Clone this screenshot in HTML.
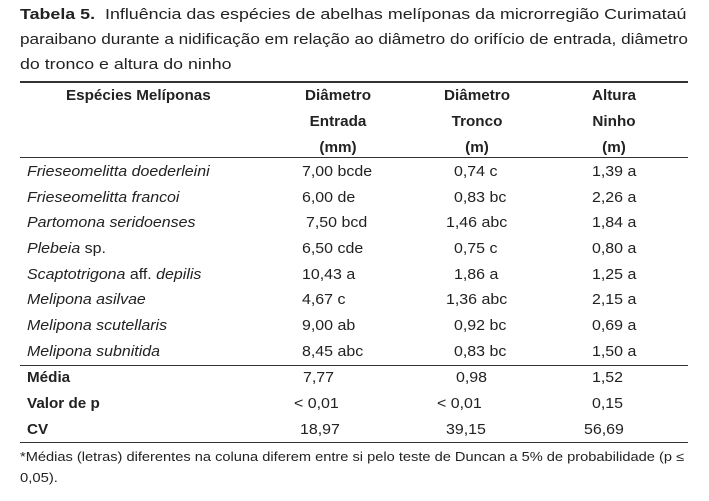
<!DOCTYPE html>
<html><head><meta charset="utf-8"><style>
body{margin:0;background:#fff;width:709px;height:501px;position:relative;overflow:hidden;font-family:"Liberation Sans",sans-serif;color:#222}
.t{position:absolute;font-size:14.5px;line-height:18px;white-space:nowrap;transform:scaleX(1.1);transform-origin:0 50%}
.b{font-weight:bold}.i{font-style:italic}
.c{transform:translateX(-50%) scaleX(1.05);transform-origin:50% 50%}
.w{transform:scaleX(1.185)}
.r{position:absolute;left:20px;width:668px;background:#333}
.f{font-size:12.5px}
</style></head><body>
<div class="t w" style="left:20px;top:6px;font-size:15px;transform:scaleX(1.19)"><b>Tabela 5.</b>&nbsp; Influência das espécies de abelhas melíponas da microrregião Curimataú</div>
<div class="t w" style="left:20px;top:31px;font-size:15px;transform:scaleX(1.146)">paraibano durante a nidificação em relação ao diâmetro do orifício de entrada, diâmetro</div>
<div class="t w" style="left:20px;top:56px;font-size:15px">do tronco e altura do ninho</div>
<div class="r" style="top:81px;height:2px"></div>
<div class="r" style="top:157px;height:1px"></div>
<div class="r" style="top:365px;height:1px"></div>
<div class="r" style="top:442px;height:1px"></div>

<div class="t b" style="left:66px;top:87px;transform:scaleX(1.05)">Espécies Melíponas</div>
<div class="t b c" style="left:338px;top:87px">Diâmetro</div>
<div class="t b c" style="left:338px;top:113px">Entrada</div>
<div class="t b c" style="left:338px;top:139px">(mm)</div>
<div class="t b c" style="left:477px;top:87px">Diâmetro</div>
<div class="t b c" style="left:477px;top:113px">Tronco</div>
<div class="t b c" style="left:477px;top:139px">(m)</div>
<div class="t b c" style="left:614px;top:87px">Altura</div>
<div class="t b c" style="left:614px;top:113px">Ninho</div>
<div class="t b c" style="left:614px;top:139px">(m)</div>

<div class="t i" style="left:27px;top:163px">Frieseomelitta doederleini</div>
<div class="t" style="left:302px;top:163px">7,00 bcde</div>
<div class="t" style="left:454px;top:163px">0,74 c</div>
<div class="t" style="left:592px;top:163px">1,39 a</div>

<div class="t i" style="left:27px;top:189px">Frieseomelitta francoi</div>
<div class="t" style="left:302px;top:189px">6,00 de</div>
<div class="t" style="left:454px;top:189px">0,83 bc</div>
<div class="t" style="left:592px;top:189px">2,26 a</div>

<div class="t i" style="left:27px;top:214px">Partomona seridoenses</div>
<div class="t" style="left:306px;top:214px">7,50 bcd</div>
<div class="t" style="left:446px;top:214px">1,46 abc</div>
<div class="t" style="left:592px;top:214px">1,84 a</div>

<div class="t" style="left:27px;top:240px"><i>Plebeia</i> sp.</div>
<div class="t" style="left:302px;top:240px">6,50 cde</div>
<div class="t" style="left:454px;top:240px">0,75 c</div>
<div class="t" style="left:592px;top:240px">0,80 a</div>

<div class="t" style="left:27px;top:266px"><i>Scaptotrigona</i> aff. <i>depilis</i></div>
<div class="t" style="left:302px;top:266px">10,43 a</div>
<div class="t" style="left:454px;top:266px">1,86 a</div>
<div class="t" style="left:592px;top:266px">1,25 a</div>

<div class="t i" style="left:27px;top:291px">Melipona asilvae</div>
<div class="t" style="left:302px;top:291px">4,67 c</div>
<div class="t" style="left:446px;top:291px">1,36 abc</div>
<div class="t" style="left:592px;top:291px">2,15 a</div>

<div class="t i" style="left:27px;top:317px">Melipona scutellaris</div>
<div class="t" style="left:302px;top:317px">9,00 ab</div>
<div class="t" style="left:454px;top:317px">0,92 bc</div>
<div class="t" style="left:592px;top:317px">0,69 a</div>

<div class="t i" style="left:27px;top:343px">Melipona subnitida</div>
<div class="t" style="left:302px;top:343px">8,45 abc</div>
<div class="t" style="left:454px;top:343px">0,83 bc</div>
<div class="t" style="left:592px;top:343px">1,50 a</div>

<div class="t b" style="left:27px;top:369px;transform:scaleX(1.05)">Média</div>
<div class="t" style="left:303px;top:369px">7,77</div>
<div class="t" style="left:456px;top:369px">0,98</div>
<div class="t" style="left:592px;top:369px">1,52</div>

<div class="t b" style="left:27px;top:395px;transform:scaleX(1.05)">Valor de p</div>
<div class="t" style="left:294px;top:395px">&lt; 0,01</div>
<div class="t" style="left:437px;top:395px">&lt; 0,01</div>
<div class="t" style="left:592px;top:395px">0,15</div>

<div class="t b" style="left:27px;top:421px;transform:scaleX(1.05)">CV</div>
<div class="t" style="left:300px;top:421px">18,97</div>
<div class="t" style="left:446px;top:421px">39,15</div>
<div class="t" style="left:584px;top:421px">56,69</div>

<div class="t f w" style="left:20px;top:448px;transform:scaleX(1.17)">*Médias (letras) diferentes na coluna diferem entre si pelo teste de Duncan a 5% de probabilidade (p ≤</div>
<div class="t f w" style="left:20px;top:469px">0,05).</div>
</body></html>
